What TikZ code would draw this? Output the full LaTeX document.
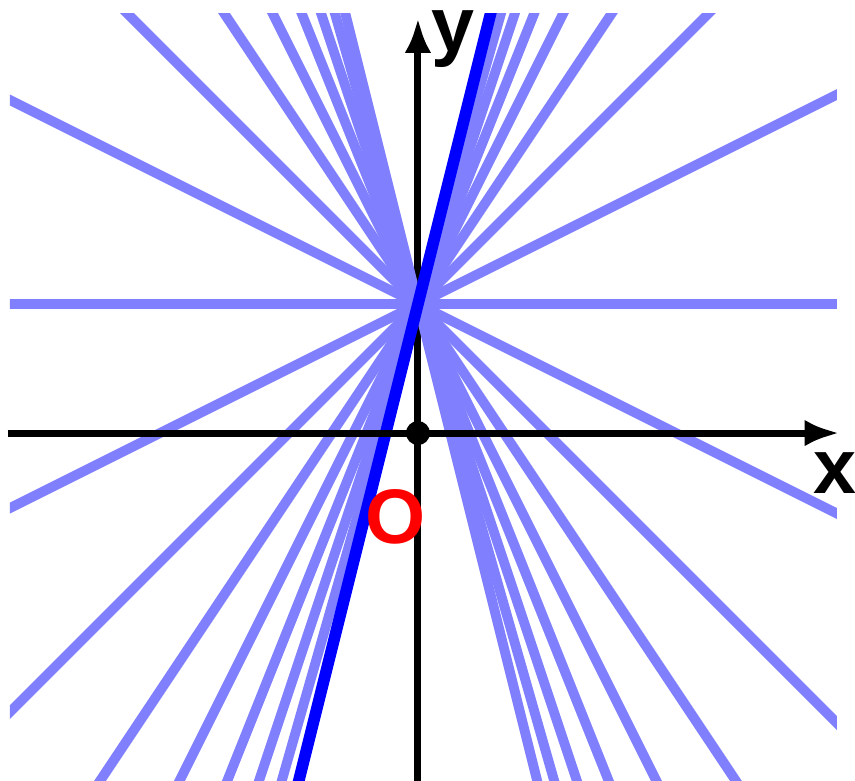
\documentclass[tikz,border=0pt]{standalone}
\usepackage{fontspec}
\setsansfont{Liberation Sans}
\usetikzlibrary{arrows.meta,calc}

\begin{document}
\begin{tikzpicture}[
  x=1.29cm,y=1.29cm,
  >={Latex[length=10pt,width=7.5pt]},
  axis/.style={->,line width=2pt,black},
  fanline/.style={line width=2.8pt,fanblue},
  keyline/.style={line width=3.3pt,keyblue},
  lab/.style={font=\sffamily\bfseries\fontsize{22}{26}\selectfont,
    inner sep=0pt,anchor=base}]

  \definecolor{fanblue}{RGB}{128,128,255}
  \definecolor{keyblue}{RGB}{0,0,255}
  \definecolor{orired}{RGB}{255,0,0}

  \useasboundingbox (-3.240,-2.690) rectangle (3.388,3.357);

  % ---- axis ends ----
  \coordinate (xmin) at (-3.18,0);
  \coordinate (xmax) at (3.27,0);
  \coordinate (ymin) at (0,-2.70);
  \coordinate (ymax) at (0,3.22);
  \coordinate (orig) at (0,0);
  \coordinate (hub) at (0,1);

  \draw[axis] (ymin) -- (ymax);

  % ---- pencil of lines through (0,1) ----
  \begin{scope}
    \clip (-3.163,-2.70) rectangle (3.248,3.256);
    \foreach \k in {-4,-3.5,...,4}
      \draw[fanline] ($(hub)+(-4,-4*\k)$) -- ($(hub)+(4,4*\k)$);
    \draw[keyline] ($(hub)+(-1,-4)$) -- ($(hub)+(1,4)$);
  \end{scope}

  \draw[axis] (xmin) -- (xmax);
  \fill (orig) circle (0.093);

  % labels
  \node[lab] (ylab) at (0.268,2.96) {y};
  \node[lab] (xlab) at (3.23,-0.465) {x};
  \node[lab,text=orired] (olab) at (-0.174,-0.86) {O};
\end{tikzpicture}
\end{document}
